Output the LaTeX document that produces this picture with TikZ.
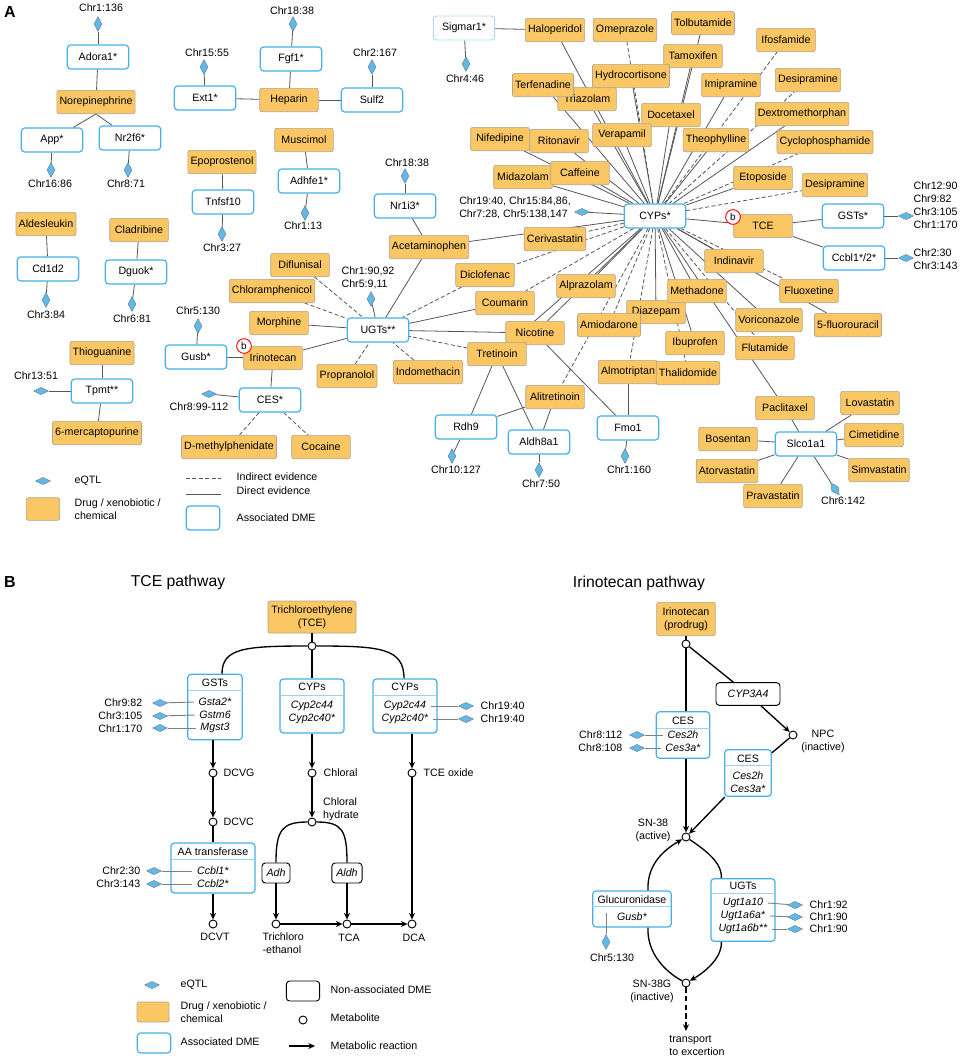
\documentclass[tikz,border=0pt]{standalone}
\usepackage{fontspec}
\setmainfont{Liberation Sans}
\usetikzlibrary{calc, positioning, shapes, backgrounds, arrows.meta}

\definecolor{drugfill}{RGB}{250,199,100}
\definecolor{drugline}{RGB}{175,165,145}
\definecolor{dmeblue}{RGB}{70,175,232}
\definecolor{qtlfill}{RGB}{96,185,230}
\definecolor{qtlline}{RGB}{110,135,155}
\definecolor{edgegray}{RGB}{85,85,85}

\tikzset{
  drug/.style={draw=drugline, fill=drugfill, rounded corners=1.5pt, line width=0.5pt,
    minimum width=44pt, minimum height=17.5pt, inner xsep=2pt, inner ysep=1pt},
  dme/.style={draw=dmeblue, fill=white, line width=0.9pt, rounded corners=2.5pt,
    minimum width=46pt, minimum height=18pt},
  nadme/.style={draw=black, fill=white, line width=0.7pt, rounded corners=2.5pt},
  qtl/.style={diamond, draw=qtlline, fill=qtlfill, line width=0.4pt, inner sep=0pt,
    minimum width=6pt, minimum height=11pt},
  qtlh/.style={qtl, minimum width=11pt, minimum height=5.5pt},
  chr/.style={inner sep=1pt, align=left},
  direct/.style={draw=edgegray, line width=0.6pt},
  indirect/.style={direct, dash pattern=on 3pt off 1.8pt},
  qline/.style={draw=gray, line width=0.7pt},
  hdline/.style={draw=dmeblue!55, line width=0.7pt},
  metab/.style={circle, draw=black, fill=white, line width=0.7pt, inner sep=0pt, minimum size=6pt},
  flow/.style={draw=black, line width=1pt},
  rxn/.style={flow, -{Stealth[length=5pt,width=4.5pt]}},
  bmark/.style={circle, draw=red, line width=0.7pt, fill=white, inner sep=0pt,
    minimum size=11pt, font=\fontsize{7.5}{7.5}\selectfont},
  panel/.style={font=\bfseries\fontsize{12}{12}\selectfont},
  title/.style={font=\fontsize{11.8}{13}\selectfont}
}

\begin{document}
\begin{tikzpicture}[x=0.75pt, y=-0.75pt, font=\fontsize{8}{9.8}\selectfont]
  \useasboundingbox (0,0) rectangle (964,1058);

  % Panel A
  \node[panel] (panela) at (10,12) {A};

  % Small clusters
  \node[qtl] (qadora) at (98,24) {};
  \node[chr] (cadora) at (101,8) {Chr1:136};
  \node[dme] (adora) at (98,57) {Adora1*};
  \node[drug] (norep) at (96,102) {Norepinephrine};
  \node[dme] (app) at (52,140) {App*};
  \node[dme] (nrtwo) at (130,138) {Nr2f6*};
  \node[qtl] (qapp) at (51,170) {};
  \node[chr] (capp) at (50,184) {Chr16:86};
  \node[qtl] (qnrtwo) at (128,170) {};
  \node[chr] (cnrtwo) at (126,184) {Chr8:71};

  \node[chr] (cext) at (207,53) {Chr15:55};
  \node[qtl] (qext) at (204,67) {};
  \node[dme] (ext) at (205,98) {Ext1*};
  \node[chr] (cfgf) at (292,11) {Chr18:38};
  \node[qtl] (qfgf) at (293,24) {};
  \node[dme] (fgf) at (291,59) {Fgf1*};
  \node[drug] (heparin) at (289,100) {Heparin};
  \node[chr] (csulf) at (375,53) {Chr2:167};
  \node[qtl] (qsulf) at (372,67) {};
  \node[dme] (sulf) at (372,100) {Sulf2};

  \node[drug] (muscimol) at (304,140) {Muscimol};
  \node[dme] (adhfe) at (309,181) {Adhfe1*};
  \node[qtl] (qadhfe) at (305,213) {};
  \node[chr] (cadhfe) at (303,226) {Chr1:13};
  \node[drug] (epopro) at (222,162) {Epoprostenol};
  \node[dme] (tnfsf) at (223,202) {Tnfsf10};
  \node[qtl] (qtnfsf) at (222,234) {};
  \node[chr] (ctnfsf) at (222,248) {Chr3:27};

  \node[drug] (aldes) at (46,224) {Aldesleukin};
  \node[dme] (cdtwo) at (48,269) {Cd1d2};
  \node[qtl] (qcdtwo) at (46,300) {};
  \node[chr] (ccdtwo) at (46,315) {Chr3:84};
  \node[drug] (cladri) at (139,230) {Cladribine};
  \node[dme] (dguok) at (136,272) {Dguok*};
  \node[qtl] (qdguok) at (132,304) {};
  \node[chr] (cdguok) at (132,319) {Chr6:81};

  \node[drug] (thiog) at (102,353) {Thioguanine};
  \node[dme] (tpmt) at (102,391) {Tpmt**};
  \node[qtlh] (qtpmt) at (41,391) {};
  \node[chr] (ctpmt) at (36,376) {Chr13:51};
  \node[drug] (merc) at (97,433) {6-mercaptopurine};

  \node[chr] (cgusb) at (198,311) {Chr5:130};
  \node[qtl] (qgusb) at (198,326) {};
  \node[dme] (gusb) at (196,357) {Gusb*};
  \node[drug] (irino) at (273,358) {Irinotecan};
  \node[bmark] (bmka) at (244,346) {b};
  \node[dme] (ces) at (270,400) {CES*};
  \node[qtlh] (qces) at (209,394) {};
  \node[chr] (cces) at (199,407) {Chr8:99-112};
  \node[drug] (dmeth) at (229,447) {D-methylphenidate};
  \node[drug] (cocaine) at (321,447) {Cocaine};

  % UGTs cluster
  \node[chr] (cugts) at (368,278) {Chr1:90,92\\Chr5:9,11};
  \node[qtl] (qugts) at (371,299) {};
  \node[dme] (ugts) at (378,330) {UGTs**};
  \node[drug] (diflu) at (300,265) {Diflunisal};
  \node[drug] (chloram) at (272,291) {Chloramphenicol};
  \node[drug] (morph) at (279,323) {Morphine};
  \node[drug] (propra) at (347,376) {Propranolol};
  \node[drug] (indo) at (428,372) {Indomethacin};
  \node[chr] (cnrthree) at (407,163) {Chr18:38};
  \node[qtl] (qnrthree) at (405,176) {};
  \node[dme] (nrthree) at (405,206) {Nr1i3*};
  \node[drug] (acet) at (429,247) {Acetaminophen};
  \node[drug] (diclo) at (485,275) {Diclofenac};
  \node[drug] (coum) at (505,303) {Coumarin};
  \node[drug] (nicot) at (535,333) {Nicotine};
  \node[drug] (tret) at (497,354) {Tretinoin};
  \node[dme] (rdh) at (466,427) {Rdh9};
  \node[qtl] (qrdh) at (452,456) {};
  \node[chr] (crdh) at (456,470) {Chr10:127};
  \node[dme] (aldh) at (539,442) {Aldh8a1};
  \node[qtl] (qaldh) at (539,470) {};
  \node[chr] (caldh) at (541,484) {Chr7:50};
  \node[drug] (alitret) at (555,397) {Alitretinoin};
  \node[dme] (fmo) at (628,428) {Fmo1};
  \node[qtl] (qfmo) at (625,456) {};
  \node[chr] (cfmo) at (629,470) {Chr1:160};

  % CYPs cluster
  \node[dme, draw=dmeblue!45, line width=0.7pt] (sigmar) at (464,28) {Sigmar1*};
  \node[qtl] (qsigmar) at (466,64) {};
  \node[chr] (csigmar) at (465,79) {Chr4:46};
  \node[drug] (halo) at (555,30) {Haloperidol};
  \node[drug] (omep) at (625,30) {Omeprazole};
  \node[drug] (tolb) at (703,23) {Tolbutamide};
  \node[drug] (tamox) at (693,56) {Tamoxifen};
  \node[drug] (ifos) at (786,40) {Ifosfamide};
  \node[drug] (imip) at (731,85) {Imipramine};
  \node[drug] (desip) at (808,80) {Desipramine};
  \node[drug] (hydro) at (631,76) {Hydrocortisone};
  \node[drug] (triaz) at (587,99) {Triazolam};
  \node[drug] (terf) at (543,85) {Terfenadine};
  \node[drug] (docet) at (671,115) {Docetaxel};
  \node[drug] (verap) at (622,135) {Verapamil};
  \node[drug] (theoph) at (716,140) {Theophylline};
  \node[drug] (dextro) at (802,114) {Dextromethorphan};
  \node[drug] (cyclo) at (825,142) {Cyclophosphamide};
  \node[drug] (etopo) at (763,178) {Etoposide};
  \node[drug] (desiptwo) at (835,185) {Desipramine};
  \node[drug] (nifed) at (500,139) {Nifedipine};
  \node[drug] (riton) at (559,141) {Ritonavir};
  \node[drug] (midaz) at (523,177) {Midazolam};
  \node[drug] (caff) at (580,173) {Caffeine};
  \node[chr] (ccyps) at (515,208) {Chr19:40, Chr15:84,86,\\Chr7:28, Chr5:138,147};
  \node[qtlh] (qcyps) at (582,212) {};
  \node[dme] (cyps) at (655,216) {CYPs*};
  \node[drug] (ceriv) at (555,239) {Cerivastatin};
  \node[drug] (tce) at (763,226) {TCE};
  \node[bmark] (bmkb) at (733,217) {b};
  \node[dme] (gsts) at (853,216) {GSTs*};
  \node[qtlh] (qgsts) at (906,216) {};
  \node[chr, anchor=west] (cgsts) at (912,205) {Chr12:90\\Chr9:82\\Chr3:105\\Chr1:170};
  \node[dme] (ccbl) at (854,258) {Ccbl1*/2*};
  \node[qtlh] (qccbl) at (906,258) {};
  \node[chr, anchor=west] (cccbl) at (912,259) {Chr2:30\\Chr3:143};
  \node[drug] (alpra) at (586,286) {Alprazolam};
  \node[drug] (diaz) at (656,312) {Diazepam};
  \node[drug] (amiod) at (609,325) {Amiodarone};
  \node[drug] (almot) at (628,372) {Almotriptan};
  \node[drug] (thalid) at (688,373) {Thalidomide};
  \node[drug] (ibup) at (695,343) {Ibuprofen};
  \node[drug] (methad) at (697,291) {Methadone};
  \node[drug] (indin) at (734,261) {Indinavir};
  \node[drug] (fluox) at (809,291) {Fluoxetine};
  \node[drug] (fluor) at (848,325) {5-fluorouracil};
  \node[drug] (voric) at (769,320) {Voriconazole};
  \node[drug] (flut) at (765,348) {Flutamide};

  % Slco1a1 cluster
  \node[drug] (paclit) at (785,408) {Paclitaxel};
  \node[dme] (slco) at (806,444) {Slco1a1};
  \node[drug] (lova) at (870,403) {Lovastatin};
  \node[drug] (cimet) at (874,435) {Cimetidine};
  \node[drug] (simva) at (879,470) {Simvastatin};
  \node[drug] (bosen) at (728,439) {Bosentan};
  \node[drug] (atorva) at (727,471) {Atorvastatin};
  \node[drug] (prava) at (773,496) {Pravastatin};
  \node[qtl, rotate=35] (qslco) at (835,489) {};
  \node[chr] (cslco) at (843,501) {Chr6:142};

  % Legend A
  \node[qtlh] (lgaq) at (43,481) {};
  \node[anchor=west] (lgaqt) at (70,481) {eQTL};
  \node[drug, minimum width=25pt, minimum height=17pt] (lgad) at (43,509) {};
  \node[anchor=west, align=left] (lgadt) at (70,509) {Drug / xenobiotic /\\chemical};
  \coordinate (lgai1) at (186,478);
  \coordinate (lgai2) at (221,478);
  \node[anchor=west] (lgait) at (232,477) {Indirect evidence};
  \coordinate (lgad1) at (186,494);
  \coordinate (lgad2) at (221,494);
  \node[anchor=west] (lgadt2) at (232,491) {Direct evidence};
  \node[dme, minimum width=25pt, minimum height=18pt] (lgab) at (203,518) {};
  \node[anchor=west] (lgabt) at (232,518) {Associated DME};

  % Edges A
  \begin{scope}[on background layer]
    \foreach \a/\b in {adora/qadora, adora/norep, app/qapp, nrtwo/qnrtwo, ext/qext, ext/heparin,
        heparin/sulf, fgf/heparin, fgf/qfgf, sulf/qsulf, muscimol/adhfe, adhfe/qadhfe,
        epopro/tnfsf, tnfsf/qtnfsf, aldes/cdtwo, cdtwo/qcdtwo, cladri/dguok, dguok/qdguok,
        thiog/tpmt, tpmt/merc, tpmt/qtpmt, gusb/qgusb, gusb/irino, irino/ces, ces/qces,
        irino/ugts, morph/ugts, acet/ugts, coum/ugts, nicot/ugts, ugts/qugts,
        nrthree/acet, nrthree/qnrthree, tret/rdh, tret/aldh, alitret/rdh, alitret/aldh,
        rdh/qrdh, aldh/qaldh, nicot/fmo, almot/fmo, fmo/qfmo, sigmar/halo, sigmar/qsigmar,
        paclit/slco, lova/slco, cimet/slco, simva/slco, bosen/slco, atorva/slco, prava/slco,
        slco/qslco, tce/gsts, tce/ccbl, gsts/qgsts, ccbl/qccbl, cyps/qcyps}
      \draw[direct] (\a) -- (\b);
    \draw[direct] (norep.south) -- (app);
    \draw[direct] (norep.south) -- (nrtwo);
    \foreach \a/\b in {diflu/ugts, chloram/ugts, propra/ugts, indo/ugts, diclo/ugts,
        tret/ugts, ces/dmeth, ces/cocaine}
      \draw[indirect] (\a) -- (\b);
    \foreach \d in {halo, tolb, tamox, hydro, terf, triaz, imip, docet, verap, theoph, dextro,
        etopo, tce, indin, fluor, methad, voric, paclit, diaz, ibup, alpra, nicot, tret,
        acet, nifed, riton, midaz, caff}
      \draw[direct] (cyps) -- (\d);
    \foreach \d in {omep, ifos, desip, cyclo, desiptwo, fluox, flut, thalid, almot, amiod,
        alitret, coum, diclo, ceriv}
      \draw[indirect] (cyps) -- (\d);
    \draw[indirect] (lgai1) -- (lgai2);
    \draw[direct] (lgad1) -- (lgad2);
  \end{scope}

  % Panel B
  \node[panel] (panelb) at (10,582) {B};
  \node[title] (tcetitle) at (178,582) {TCE pathway};
  \node[title] (irititle) at (639,583) {Irinotecan pathway};

  % TCE pathway
  \node[drug, minimum width=66pt, minimum height=24pt, align=center] (tcebox) at (312,617) {Trichloroethylene\\(TCE)};
  \node[metab] (tj) at (312,646) {};

  \node[dme, minimum width=41pt, minimum height=49pt] (gstb) at (215,707) {};
  \node (gsthd) at (215,683) {GSTs};
  \draw[hdline] (188,690) -- (243,690);
  \node (gsta) at (215,702) {\textit{Gsta2*}};
  \node (gstm) at (215,715) {\textit{Gstm6}};
  \node (mgst) at (215,728) {\textit{Mgst3}};
  \node[qtlh] (qgsta) at (160,703) {};
  \node[qtlh] (qgstm) at (160,716) {};
  \node[qtlh] (qmgst) at (160,728) {};
  \node[anchor=east] (cgsta) at (147,703) {Chr9:82};
  \node[anchor=east] (cgstm) at (147,716) {Chr3:105};
  \node[anchor=east] (cmgst) at (147,729) {Chr1:170};

  \node[dme, minimum width=48pt, minimum height=40.5pt] (cypa) at (312,706) {};
  \node (cypahd) at (312,687) {CYPs};
  \draw[hdline] (280,695) -- (344,695);
  \node (cypaa) at (312,706) {\textit{Cyp2c44}};
  \node (cypab) at (312,719) {\textit{Cyp2c40*}};

  \node[dme, minimum width=48pt, minimum height=40.5pt] (cypb) at (405,706) {};
  \node (cypbhd) at (405,687) {CYPs};
  \draw[hdline] (373,695) -- (437,695);
  \node (cypba) at (405,706) {\textit{Cyp2c44}};
  \node (cypbb) at (405,719) {\textit{Cyp2c40*}};
  \node[qtlh] (qcypba) at (466,706) {};
  \node[qtlh] (qcypbb) at (466,719) {};
  \node[anchor=west] (ccypba) at (476,706) {Chr19:40};
  \node[anchor=west] (ccypbb) at (476,719) {Chr19:40};

  \node[metab] (dcvg) at (213,773) {};
  \node[anchor=west] (ldcvg) at (219,773) {DCVG};
  \node[metab] (dcvc) at (213,822) {};
  \node[anchor=west] (ldcvc) at (219,822) {DCVC};
  \node[dme, minimum width=63pt, minimum height=37.5pt] (aat) at (213,868) {};
  \node (aathd) at (213,852) {AA transferase};
  \draw[hdline] (171,859) -- (255,859);
  \node (ccblone) at (213,871) {\textit{Ccbl1*}};
  \node (ccbltwo) at (213,884) {\textit{Ccbl2*}};
  \node[qtlh] (qccblone) at (154,871) {};
  \node[qtlh] (qccbltwo) at (154,884) {};
  \node[anchor=east] (cccblone) at (145,871) {Chr2:30};
  \node[anchor=east] (cccbltwo) at (145,884) {Chr3:143};
  \node[metab] (dcvt) at (213,924) {};
  \node (ldcvt) at (215,937) {DCVT};

  \node[metab] (chloral) at (312,773) {};
  \node[anchor=west] (lchloral) at (319,773) {Chloral};
  \node[metab] (hydrate) at (312,822) {};
  \node[align=left] (lhydrate) at (341,809) {Chloral\\hydrate};
  \node[nadme, minimum width=21pt, minimum height=15pt] (adh) at (276,873) {\textit{Adh}};
  \node[nadme, minimum width=21pt, minimum height=15pt] (aldhb) at (347,873) {\textit{Aldh}};
  \node[metab] (tceth) at (276,924) {};
  \node[anchor=north west, align=left, inner sep=1pt] (ltceth) at (261,931) {Trichloro\\-ethanol};
  \node[metab] (tca) at (347,924) {};
  \node (ltca) at (349,938) {TCA};
  \node[metab] (tceox) at (412,773) {};
  \node[anchor=west] (ltceox) at (419,773) {TCE oxide};
  \node[metab] (dca) at (412,924) {};
  \node (ldca) at (414,938) {DCA};

  \coordinate (gsttop) at ($(gstb.north)+(7,0)$);
  \coordinate (cypbtop) at ($(cypb.north)+(-1,0)$);

  % Reactions TCE
  \draw[flow] (tcebox) -- (tj);
  \draw[flow] (tj) .. controls (245,646) and (222,648) .. (gsttop);
  \draw[flow] (tj) -- (cypa);
  \draw[flow] (tj) .. controls (380,646) and (404,648) .. (cypbtop);
  \draw[rxn] (gstb.south -| dcvg) -- (dcvg);
  \draw[rxn] (dcvg) -- (dcvc);
  \draw[flow] (dcvc) -- (aat);
  \draw[rxn] (aat.south -| dcvt) -- (dcvt);
  \draw[rxn] (cypa) -- (chloral);
  \draw[rxn] (chloral) -- (hydrate);
  \draw[flow] (hydrate) .. controls (282,822) and (276,830) .. (adh);
  \draw[flow] (hydrate) .. controls (342,822) and (347,830) .. (aldhb);
  \draw[rxn] (adh) -- (tceth);
  \draw[rxn] (aldhb) -- (tca);
  \draw[rxn] (tceth) -- (tca);
  \draw[rxn] (tca) -- (dca);
  \draw[rxn] (cypb.south -| tceox) -- (tceox);
  \draw[rxn] (tceox) -- (dca);
  \foreach \a/\b in {qgsta/gsta, qgstm/gstm, qmgst/mgst, qccblone/ccblone, qccbltwo/ccbltwo}
    \draw[qline] (\a) -- (\b.west);
  \draw[qline] (cypba.east) -- (qcypba);
  \draw[qline] (cypbb.east) -- (qcypbb);

  % Irinotecan pathway
  \node[drug, minimum width=44pt, minimum height=25pt, align=center] (irinbox) at (686,619) {Irinotecan\\(prodrug)};
  \node[metab] (ij) at (686,644) {};
  \node[nadme, minimum width=48pt, minimum height=17pt] (cyptf) at (748,694) {\textit{CYP3A4}};
  \node[metab] (npc) at (793,735) {};
  \node[align=center] (lnpc) at (823,741) {NPC\\(inactive)};

  \node[dme, minimum width=40pt, minimum height=35pt] (cesa) at (683,735) {};
  \node (cesahd) at (683,721) {CES};
  \draw[hdline] (657,728) -- (710,728);
  \node (cesaa) at (683,735) {\textit{Ces2h}};
  \node (cesab) at (683,748) {\textit{Ces3a*}};
  \node[qtlh] (qcesaa) at (637,735) {};
  \node[qtlh] (qcesab) at (637,748) {};
  \node[anchor=east] (ccesaa) at (627,735) {Chr8:112};
  \node[anchor=east] (ccesab) at (627,748) {Chr8:108};

  \node[dme, minimum width=35pt, minimum height=35pt] (cesb) at (748,773) {};
  \node (cesbhd) at (748,759) {CES};
  \draw[hdline] (725,765) -- (772,765);
  \node (cesba) at (748,776) {\textit{Ces2h}};
  \node (cesbb) at (748,789) {\textit{Ces3a*}};

  \node[metab] (sn38) at (686,837) {};
  \node[align=center] (lsn) at (653,830) {SN-38\\(active)};

  \node[dme, minimum width=48pt, minimum height=47pt] (ugtb) at (743,910) {};
  \node (ugtbhd) at (743,886) {UGTs};
  \draw[hdline] (711,893) -- (775,893);
  \node (ugta) at (743,903) {\textit{Ugt1a10}};
  \node (ugtbb) at (743,916) {\textit{Ugt1a6a*}};
  \node (ugtc) at (743,929) {\textit{Ugt1a6b**}};
  \node[qtlh] (qugta) at (795,905) {};
  \node[qtlh] (qugtb) at (795,917) {};
  \node[qtlh] (qugtc) at (795,929) {};
  \node[anchor=west] (cugta) at (805,905) {Chr1:92};
  \node[anchor=west] (cugtb) at (805,917) {Chr1:90};
  \node[anchor=west] (cugtc) at (805,929) {Chr1:90};

  \node[dme, minimum width=59pt, minimum height=27pt] (glucb) at (632,909) {};
  \node (glucbhd) at (632,900) {Glucuronidase};
  \draw[hdline] (592,906) -- (671,906);
  \node (gusbb) at (632,917) {\textit{Gusb*}};
  \coordinate (gustap) at (606,913);
  \node[qtl] (qgusbb) at (606,942) {};
  \node (cgusbb) at (612,958) {Chr5:130};

  \node[metab] (sn38g) at (686,983) {};
  \node[align=center] (lsng) at (652,991) {SN-38G\\(inactive)};
  \node[anchor=north, align=left] (exc) at (697,1031) {transport\\to excertion};

  \coordinate (ugttop) at ($(ugtb.north west)+(11,0)$);
  \coordinate (ugtbot) at ($(ugtb.south west)+(11,0)$);
  \coordinate (glutop) at ($(glucb.north east)+(-24,0)$);
  \coordinate (glubot) at ($(glucb.south east)+(-24,0)$);

  % Reactions irinotecan
  \draw[flow] (irinbox) -- (ij);
  \draw[flow] (ij) -- (cesa.north -| ij);
  \draw[rxn] (cesa.south -| ij) -- (sn38);
  \draw[flow] (ij) -- (cyptf);
  \draw[rxn] (cyptf) -- (npc);
  \draw[flow] (npc) -- (cesb);
  \draw[rxn] (cesb) -- (sn38);
  \draw[flow] (sn38) .. controls (705,850) and (722,862) .. (ugttop);
  \draw[rxn] (ugtbot) .. controls (722,958) and (705,972) .. (sn38g);
  \draw[flow] (sn38g) .. controls (666,972) and (647,954) .. (glubot);
  \draw[rxn] (glutop) .. controls (647,864) and (664,850) .. (sn38);
  \draw[rxn, dash pattern=on 4pt off 2.5pt] (sn38g) -- (sn38g |- exc.north);
  \foreach \a/\b in {qcesaa/cesaa, qcesab/cesab}
    \draw[qline] (\a) -- (\b.west);
  \foreach \a/\b in {ugta/qugta, ugtbb/qugtb, ugtc/qugtc}
    \draw[qline] (\a.east) -- (\b);
  \draw[qline] (gustap) -- (qgusbb);

  % Legend B
  \node[qtlh] (lgbq) at (152,985) {};
  \node[anchor=west] (lgbqt) at (176,985) {eQTL};
  \node[drug, minimum width=24pt, minimum height=15pt] (lgbd) at (153,1012) {};
  \node[anchor=west, align=left] (lgbdt) at (176,1012) {Drug / xenobiotic /\\chemical};
  \node[dme, minimum width=25pt, minimum height=15pt] (lgbb) at (154,1043) {};
  \node[anchor=west] (lgbbt) at (176,1042) {Associated DME};
  \node[nadme, minimum width=25pt, minimum height=15pt] (lgbn) at (303,991) {};
  \node[anchor=west] (lgbnt) at (326,990) {Non-associated DME};
  \node[metab] (lgbm) at (303,1020) {};
  \node[anchor=west] (lgbmt) at (326,1018) {Metabolite};
  \coordinate (lgbr1) at (289,1046);
  \coordinate (lgbr2) at (315,1046);
  \draw[rxn] (lgbr1) -- (lgbr2);
  \node[anchor=west] (lgbrt) at (326,1046) {Metabolic reaction};
\end{tikzpicture}
\end{document}
